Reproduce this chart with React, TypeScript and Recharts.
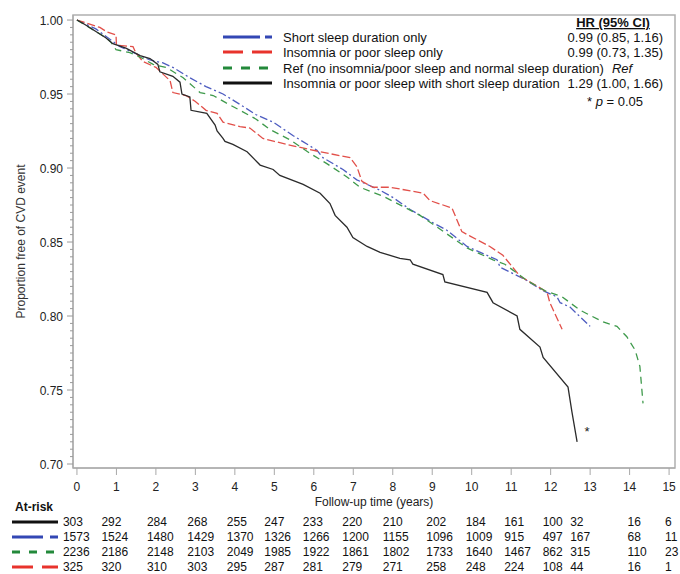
import { LineChart, Line, XAxis, YAxis, Legend, ReferenceDot, ReferenceArea } from "recharts";

const FONT = "'Liberation Sans', Arial, Helvetica, sans-serif";

// follow-up years on the axis and in the at-risk table
const years = [0, 1, 2, 3, 4, 5, 6, 7, 8, 9, 10, 11, 12, 13, 14, 15];

// numbers at risk (table rows: both, short only, ref, insomnia only)
const atRiskBoth = [303, 292, 284, 268, 255, 247, 233, 220, 210, 202, 184, 161, 100, 32, 16, 6];
const atRiskShort = [1573, 1524, 1480, 1429, 1370, 1326, 1266, 1200, 1155, 1096, 1009, 915, 497, 167, 68, 11];
const atRiskRef = [2236, 2186, 2148, 2103, 2049, 1985, 1922, 1861, 1802, 1733, 1640, 1467, 862, 315, 110, 23];
const atRiskInsomnia = [325, 320, 310, 303, 295, 287, 281, 279, 271, 258, 248, 224, 108, 44, 16, 1];

// Kaplan-Meier curves
const shortTime = [0, 0.48, 1.09, 1.85, 2.18, 2.43, 2.86, 3.27, 3.7, 4.13, 4.54, 4.97, 5.47, 6.08, 6.23, 6.74, 7.09, 7.68, 8.01, 8.44, 9.02, 9.37, 9.88, 10.64, 10.72, 11.4, 11.81, 12.16, 12.24, 12.49, 13.0];
const shortSurv = [1.0, 0.994, 0.982, 0.973, 0.971, 0.968, 0.961, 0.955, 0.95, 0.943, 0.936, 0.931, 0.922, 0.912, 0.907, 0.899, 0.892, 0.885, 0.88, 0.872, 0.863, 0.858, 0.847, 0.838, 0.833, 0.824, 0.817, 0.813, 0.809, 0.806, 0.793];

const insomniaTime = [0, 0.58, 0.76, 0.99, 1.0, 1.42, 1.49, 1.67, 2.0, 2.36, 2.43, 2.76, 3.0, 3.27, 3.55, 3.7, 4.13, 4.38, 4.71, 5.0, 5.47, 6.16, 6.92, 7.09, 7.22, 7.5, 7.93, 8.77, 8.94, 9.5, 9.75, 9.96, 10.46, 10.79, 11.22, 11.73, 11.91, 11.98, 12.29];
const insomniaSurv = [1.0, 0.995, 0.992, 0.99, 0.983, 0.982, 0.978, 0.972, 0.968, 0.959, 0.951, 0.949, 0.945, 0.939, 0.937, 0.931, 0.928, 0.927, 0.92, 0.918, 0.915, 0.911, 0.907, 0.901, 0.891, 0.887, 0.887, 0.883, 0.878, 0.873, 0.857, 0.854, 0.847, 0.841, 0.827, 0.819, 0.816, 0.809, 0.791];

const refTime = [0, 0.74, 0.86, 0.99, 1.34, 1.6, 1.93, 2.26, 2.69, 3.12, 3.45, 3.78, 4.13, 4.54, 4.89, 5.4, 5.9, 6.33, 6.84, 7.17, 7.75, 8.26, 8.69, 9.02, 9.88, 10.54, 10.84, 11.4, 11.86, 12.29, 12.74, 13.33, 13.68, 13.93, 14.14, 14.26, 14.34];
const refSurv = [1.0, 0.988, 0.985, 0.98, 0.978, 0.975, 0.97, 0.968, 0.961, 0.951, 0.949, 0.944, 0.939, 0.933, 0.926, 0.919, 0.91, 0.903, 0.894, 0.887, 0.881, 0.874, 0.868, 0.862, 0.846, 0.838, 0.835, 0.824, 0.817, 0.813, 0.804, 0.796, 0.793, 0.786, 0.777, 0.766, 0.741];

const bothTime = [0, 0.2, 0.73, 0.91, 1.24, 1.6, 1.85, 2.05, 2.1, 2.43, 2.61, 2.66, 2.86, 2.89, 3.29, 3.5, 3.55, 3.7, 3.75, 3.95, 4.31, 4.64, 4.97, 5.14, 5.73, 6.16, 6.41, 6.54, 6.84, 6.99, 7.35, 7.68, 8.18, 8.44, 8.51, 9.27, 9.32, 10.39, 10.54, 11.15, 11.22, 11.73, 11.81, 12.44, 12.54, 12.67];
const bothSurv = [1.0, 0.997, 0.988, 0.984, 0.981, 0.976, 0.974, 0.97, 0.965, 0.962, 0.958, 0.95, 0.948, 0.939, 0.937, 0.929, 0.925, 0.92, 0.918, 0.916, 0.911, 0.902, 0.899, 0.895, 0.889, 0.883, 0.876, 0.868, 0.86, 0.853, 0.847, 0.843, 0.839, 0.838, 0.835, 0.828, 0.823, 0.816, 0.809, 0.8, 0.791, 0.779, 0.772, 0.752, 0.735, 0.715];

const legendNames = [
  "Short sleep duration only",
  "Insomnia or poor sleep only",
  "Ref (no insomnia/poor sleep and normal sleep duration)",
  "Insomnia or poor sleep with short sleep duration",
];
const hrLabels = ["0.99 (0.85, 1.16)", "0.99 (0.73, 1.35)", "Ref", "1.29 (1.00, 1.66)"];

const yMajor = [0.7, 0.75, 0.8, 0.85, 0.9, 0.95, 1.0];
const yTicks: number[] = [];
for (let i = 0; i <= 60; i++) yTicks.push(Math.round((0.7 + i * 0.005) * 1000) / 1000);

const xDomain = [-0.1, 15.15];
const yDomain = [0.6973, 1.0034];
const starAt = { t: 12.92, v: 0.722 };

const toPoints = (t: number[], s: number[]) => t.map((x, i) => ({ t: x, v: s[i] }));

const BLUE = "#3347b4";
const RED = "#e8332c";
const GREEN = "#23893b";
const BLACK = "#111";

const series = [
  { key: "short", color: "#4d5cc0", dash: "8 3 2 3", data: toPoints(shortTime, shortSurv) },
  { key: "insomnia", color: "#e2504a", dash: "8 3", data: toPoints(insomniaTime, insomniaSurv) },
  { key: "ref", color: "#3f9a4c", dash: "7 5", data: toPoints(refTime, refSurv) },
  { key: "both", color: "#2b2b2b", dash: undefined, data: toPoints(bothTime, bothSurv) },
];

// swatches for the at-risk rows and the legend
const rowStyles = [
  { color: BLACK, dash: undefined, end: 58 },
  { color: BLUE, dash: "31 7 8", end: 58 },
  { color: GREEN, dash: "8 9", end: 54 },
  { color: RED, dash: "21 9", end: 58 },
];
const legendStyles = [
  { color: BLUE, dash: "37 5 7", end: 62 },
  { color: RED, dash: "20 9 20", end: 62 },
  { color: GREEN, dash: "9 9", end: 58 },
  { color: BLACK, dash: undefined, end: 62 },
];
const atRiskRows = [atRiskBoth, atRiskShort, atRiskRef, atRiskInsomnia];
const colShift = [-14, -15, -9, -8, -8, -10, -11, -11, -10, -6, -6, -7, -8, -20, -2, -4];

const YTick = (props: any) => {
  const { x, y, payload } = props;
  const v = payload.value;
  const major = yMajor.some((m) => Math.abs(m - v) < 1e-6);
  const ax = x + 10;
  return (
    <g>
      <line x1={ax - (major ? 6 : 3)} x2={ax} y1={y} y2={y} stroke="#9a9a9a" />
      {major && (
        <text x={x} y={y} dy={4.5} textAnchor="end" fontSize={12} fill="#222" fontFamily={FONT}>
          {v.toFixed(2)}
        </text>
      )}
    </g>
  );
};

const makeRowTick = (row: number) => (props: any) => {
  const { x, y, index } = props;
  const st = rowStyles[row];
  const i = years.indexOf(props.payload.value);
  return (
    <g>
      {index === 0 && row === 0 && (
        <text x={15} y={y - 3} fontSize={12} fontWeight="bold" fill="#111" fontFamily={FONT}>
          At-risk
        </text>
      )}
      {index === 0 && (
        <line x1={12} x2={st.end} y1={y + 8} y2={y + 8} stroke={st.color} strokeWidth={3} strokeDasharray={st.dash} />
      )}
      <text x={x + colShift[i]} y={y + 12} fontSize={12} fill="#111" fontFamily={FONT}>
        {atRiskRows[row][i]}
      </text>
    </g>
  );
};

const LegendBox = () => (
  <svg width={470} height={115} style={{ display: "block" }}>
    <text x={403} y={27} textAnchor="middle" fontSize={13} fontWeight="bold" textDecoration="underline" fill="#111" fontFamily={FONT}>
      HR (95% CI)
    </text>
    {legendNames.map((name, i) => {
      const cy = [37, 52, 68, 83][i];
      const st = legendStyles[i];
      const hr = hrLabels[i];
      return (
        <g key={name}>
          <line x1={13} x2={st.end} y1={cy} y2={cy} stroke={st.color} strokeWidth={3} strokeDasharray={st.dash} />
          <text x={73} y={cy + 4.5} fontSize={13} fill="#111" fontFamily={FONT}>
            {name}
          </text>
          {hr === "Ref" ? (
            <text x={412} y={cy + 4.5} textAnchor="middle" fontSize={13} fontStyle="italic" fill="#111" fontFamily={FONT}>
              Ref
            </text>
          ) : (
            <text x={453} y={cy + 4.5} textAnchor="end" fontSize={13} fill="#111" fontFamily={FONT}>
              {hr}
            </text>
          )}
        </g>
      );
    })}
    <text x={433} y={106} textAnchor="end" fontSize={13} fill="#111" fontFamily={FONT}>
      * <tspan fontStyle="italic">p</tspan> = 0.05
    </text>
  </svg>
);

export default function App() {
  return (
    <div style={{ position: "absolute", left: 0, top: 0, background: "#fff" }}>
      <LineChart width={680} height={574} margin={{ top: 15, right: 5, bottom: 0, left: 0 }}>
        <XAxis
          dataKey="t"
          type="number"
          domain={xDomain}
          ticks={years}
          interval={0}
          allowDataOverflow
          height={46}
          tickSize={7}
          tickMargin={7}
          stroke="#a8a8a8"
          tick={{ fill: "#222", fontSize: 12, fontFamily: FONT }}
          label={{ value: "Follow-up time (years)", position: "insideBottom", offset: 8, fill: "#222", fontSize: 12, fontFamily: FONT }}
        />
        {atRiskRows.map((_, r) => (
          <XAxis
            key={r}
            xAxisId={`r${r}`}
            dataKey="t"
            type="number"
            domain={xDomain}
            ticks={years}
            interval={0}
            allowDataOverflow
            height={15}
            axisLine={false}
            tickLine={false}
            tickSize={0}
            tickMargin={0}
            tick={makeRowTick(r)}
          />
        ))}
        <YAxis
          type="number"
          domain={yDomain}
          ticks={yTicks}
          interval={0}
          allowDataOverflow
          width={73}
          tickSize={6}
          tickMargin={4}
          tickLine={false}
          stroke="#a8a8a8"
          tick={YTick}
          label={{
            value: "Proportion free of CVD event",
            angle: -90,
            position: "insideLeft",
            offset: 21,
            fill: "#333",
            fontSize: 12,
            fontFamily: FONT,
            style: { textAnchor: "middle" },
          }}
        />
        <YAxis yAxisId="count" type="number" hide />
        <ReferenceArea
          x1={xDomain[0]}
          x2={xDomain[1]}
          y1={yDomain[0]}
          y2={yDomain[1]}
          fill="none"
          stroke="#b0b0b0"
          strokeWidth={1.5}
        />
        {/* invisible carriers so each at-risk axis row is drawn */}
        {atRiskRows.map((row, r) => (
          <Line
            key={`n${r}`}
            xAxisId={`r${r}`}
            yAxisId="count"
            data={years.map((t, i) => ({ t, n: row[i] }))}
            dataKey="n"
            stroke="none"
            dot={false}
            activeDot={false}
            legendType="none"
            isAnimationActive={false}
          />
        ))}
        {series.map((s) => (
          <Line
            key={s.key}
            data={s.data}
            dataKey="v"
            type="linear"
            stroke={s.color}
            strokeWidth={1.3}
            strokeDasharray={s.dash}
            dot={false}
            activeDot={false}
            isAnimationActive={false}
          />
        ))}
        <ReferenceDot
          x={starAt.t}
          y={starAt.v}
          r={0}
          fill="none"
          stroke="none"
          label={{ value: "*", position: "center", fontSize: 13, fill: "#222", fontFamily: FONT }}
        />
        <Legend
          layout="vertical"
          align="center"
          verticalAlign="middle"
          content={LegendBox}
          wrapperStyle={{ left: 210, top: 0, width: 470, height: 115 }}
        />
      </LineChart>
    </div>
  );
}
